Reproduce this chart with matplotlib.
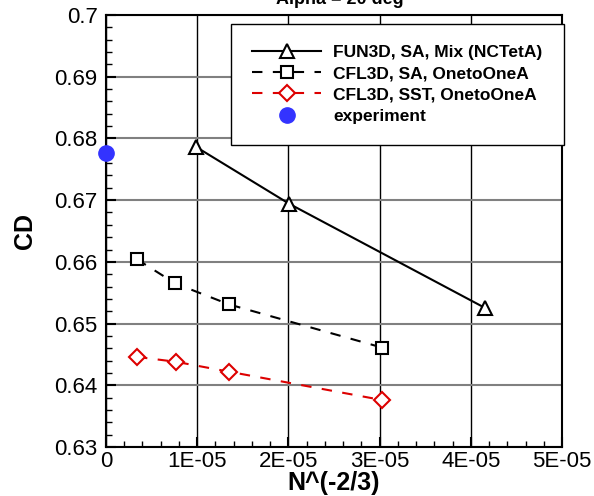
import matplotlib
matplotlib.use('Agg')
import matplotlib.pyplot as plt
from matplotlib.ticker import MultipleLocator, FuncFormatter

plt.rcParams['font.family'] = ['Liberation Sans', 'DejaVu Sans']

# data
fun3d_x = [0.99e-5, 2.01e-5, 4.16e-5]
fun3d_cd = [0.6786, 0.6694, 0.6525]
sa_x = [0.34e-5, 0.76e-5, 1.35e-5, 3.03e-5]
sa_cd = [0.6604, 0.6565, 0.6531, 0.6461]
sst_x = [0.34e-5, 0.77e-5, 1.35e-5, 3.03e-5]
sst_cd = [0.6446, 0.6438, 0.6422, 0.6376]
exp_x = [0.0]
exp_cd = [0.6776]

fig = plt.figure(figsize=(5.94, 4.96), dpi=100)
ax = fig.add_axes([106/594, 1-447/496, 456/594, 432/496])

ax.plot(fun3d_x, fun3d_cd, '-', color='black', lw=1.5, marker='^', ms=10,
        mfc='white', mec='black', mew=1.5, label='FUN3D, SA, Mix (NCTetA)')
ax.plot(sa_x, sa_cd, color='black', lw=1.5, dashes=(5, 5), marker='s', ms=9,
        mfc='white', mec='black', mew=1.5, label='CFL3D, SA, OnetoOneA')
ax.plot(sst_x, sst_cd, color='#dd0000', lw=1.5, dashes=(5, 5), marker='D', ms=8,
        mfc='white', mec='#dd0000', mew=1.5, label='CFL3D, SST, OnetoOneA')
ax.plot(exp_x, exp_cd, 'o', color='#3333ff', ms=11, ls='none', label='experiment',
        clip_on=False, zorder=5)

ax.set_xlim(0, 5e-5)
ax.set_ylim(0.63, 0.70)
ax.xaxis.set_major_locator(MultipleLocator(1e-5))
ax.xaxis.set_minor_locator(MultipleLocator(2e-6))
ax.yaxis.set_major_locator(MultipleLocator(0.01))
ax.yaxis.set_minor_locator(MultipleLocator(0.002))

def xfmt(v, pos):
    if abs(v) < 1e-12:
        return '0'
    return '%dE-05' % round(v / 1e-5)

def yfmt(v, pos):
    return ('%.2f' % v).rstrip('0').rstrip('.')

ax.xaxis.set_major_formatter(FuncFormatter(xfmt))
ax.yaxis.set_major_formatter(FuncFormatter(yfmt))

ax.tick_params(which='both', direction='in', top=False, right=False, labelsize=16, width=1.5)
ax.tick_params(which='major', length=7)
ax.tick_params(axis='x', which='major', pad=3)
ax.tick_params(axis='y', which='major', pad=6)
ax.tick_params(which='minor', length=4, width=1)
for s in ax.spines.values():
    s.set_linewidth(1.5)

ax.xaxis.grid(True, color='black', lw=1)
ax.yaxis.grid(True, color='#808080', lw=1.5)
ax.set_axisbelow(True)

ax.set_xlabel('N^(-2/3)', fontsize=18, fontweight='bold')
ax.set_ylabel('CD', fontsize=18, fontweight='bold')
ax.xaxis.set_label_coords(0.5, -0.055)
ax.yaxis.set_label_coords(-0.151, 0.5)

leg = fig.legend(loc='upper left', bbox_to_anchor=(231/594, 1-24/496),
                 prop={'weight': 'bold', 'size': 12.5},
                 fancybox=False, edgecolor='black', framealpha=1,
                 handlelength=4.0, borderpad=1.2, labelspacing=0.35,
                 handletextpad=0.7, borderaxespad=0)
leg.get_frame().set_linewidth(1)

fig.text(340/594, 1-4/496, 'Alpha = 20 deg', ha='center', va='baseline',
         fontsize=13, fontweight='bold')

fig.savefig('out.png', dpi=100)
